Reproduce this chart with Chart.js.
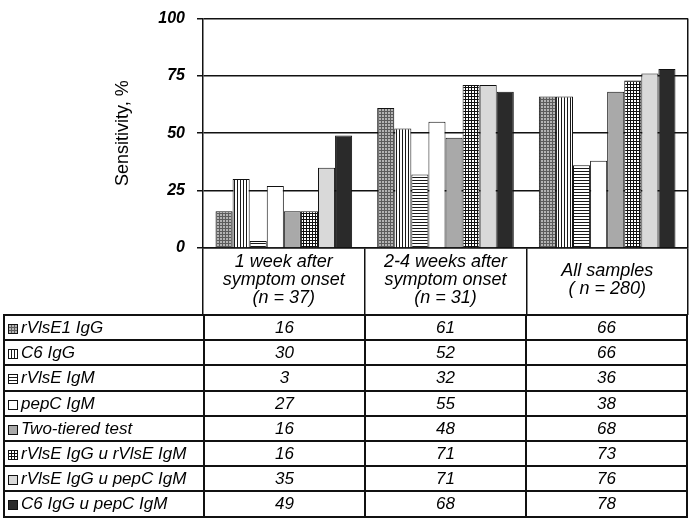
<!DOCTYPE html>
<html>
<head>
<meta charset="utf-8">
<script src="https://cdn.jsdelivr.net/npm/chart.js@4.4.1/dist/chart.umd.min.js"></script>
<style>
  html, body { margin: 0; padding: 0; background: #fff; }
  body { width: 693px; height: 520px; position: relative; overflow: hidden; font-family: 'Liberation Sans', Arial, sans-serif; }
  #chart { position: absolute; left: 0; top: 0; }
  #dataTable { position: absolute; left: 3px; top: 314px; border-collapse: collapse; table-layout: fixed; }
  #dataTable td { border: 2px solid #111; height: 23.2px; padding: 0; font-style: italic; font-size: 17px; text-align: center; line-height: 1; color: #000; }
  #dataTable td.name { text-align: left; padding-left: 3px; white-space: nowrap; }
  .swatch { display: inline-block; vertical-align: -1px; margin-right: 3px; }
</style>
</head>
<body>
<canvas id="chart" width="693" height="316"></canvas>
<table id="dataTable">
  <colgroup><col style="width:200px"><col style="width:161px"><col style="width:161px"><col style="width:161px"></colgroup>
  <tbody></tbody>
</table>
<script>
// categories (x axis / table header)
const categories = [
    ['1 week after', 'symptom onset', '(n = 37)'],
    ['2-4 weeks after', 'symptom onset', '(n = 31)'],
    ['All samples', '( n = 280)']
];

// tests (one bar series each)
const seriesNames = [
    'rVlsE1 IgG',
    'C6 IgG',
    'rVlsE IgM',
    'pepC IgM',
    'Two-tiered test',
    'rVlsE IgG u rVlsE IgM',
    'rVlsE IgG u pepC IgM',
    'C6 IgG u pepC IgM'
];

// sensitivity, % per test and group
const rvlse1IgG = [16, 61, 66];
const c6IgG = [30, 52, 66];
const rvlseIgM = [3, 32, 36];
const pepcIgM = [27, 55, 38];
const twoTiered = [16, 48, 68];
const rvlseIgGorIgM = [16, 71, 73];
const rvlseIgGorPepc = [35, 71, 76];
const c6IgGorPepc = [49, 68, 78];

const seriesValues = [rvlse1IgG, c6IgG, rvlseIgM, pepcIgM, twoTiered, rvlseIgGorIgM, rvlseIgGorPepc, c6IgGorPepc];

const yTicks = [0, 25, 50, 75, 100];

// small repeating fills for the bars
function makeTile(w, h, bg, draw) {
    const c = document.createElement('canvas');
    c.width = w;
    c.height = h;
    const g = c.getContext('2d');
    g.fillStyle = bg;
    g.fillRect(0, 0, w, h);
    if (draw) draw(g);
    return g.createPattern(c, 'repeat');
}

const fills = [
    makeTile(3, 3, '#b4b4b4', g => { g.fillStyle = '#5c5c5c'; g.fillRect(0, 0, 3, 1); g.fillRect(0, 0, 1, 3); }),
    makeTile(3, 3, '#ffffff', g => { g.fillStyle = '#1a1a1a'; g.fillRect(0, 0, 1, 3); }),
    makeTile(3, 3, '#ffffff', g => { g.fillStyle = '#1a1a1a'; g.fillRect(0, 0, 3, 1); }),
    '#ffffff',
    '#a9a9a9',
    makeTile(3, 3, '#ffffff', g => { g.fillStyle = '#111'; g.fillRect(0, 0, 3, 1); g.fillRect(0, 0, 1, 3); }),
    '#d9d9d9',
    '#2a2a2a'
];

Chart.defaults.font.family = "'Liberation Sans', Arial, sans-serif";
Chart.defaults.color = '#000';

new Chart(document.getElementById('chart'), {
    type: 'bar',
    data: {
        labels: categories,
        datasets: seriesNames.map((name, i) => ({
            label: name,
            data: seriesValues[i],
            backgroundColor: fills[i],
            borderColor: '#111',
            borderWidth: 1,
            categoryPercentage: 0.845,
            barPercentage: 1
        }))
    },
    options: {
        responsive: false,
        animation: false,
        layout: { padding: { left: 112, right: 5, top: 7, bottom: 1 } },
        plugins: { legend: { display: false }, tooltip: { enabled: false } },
        scales: {
            x: {
                afterFit: s => { s.height = 67; },
                grid: {
                    offset: true,
                    drawOnChartArea: true,
                    color: ctx => ctx.type === 'scale' ? '#111' : 'rgba(0,0,0,0)',
                    tickColor: '#111',
                    tickLength: 67,
                    lineWidth: 1.5
                },
                border: { display: true, color: '#111', width: 1.5 },
                ticks: {
                    autoSkip: false,
                    maxRotation: 0,
                    crossAlign: 'center',
                    padding: -53,
                    font: { size: 18, style: 'italic', lineHeight: 1.0 }
                }
            },
            y: {
                min: 0,
                max: 100,
                afterFit: s => { s.width = 91; },
                afterBuildTicks: s => { s.ticks = yTicks.map(v => ({ value: v })); },
                grid: { color: '#111', lineWidth: 1.5, tickLength: 6 },
                border: { display: true, color: '#111', width: 1.5 },
                ticks: {
                    padding: 12,
                    font: { size: 16, style: 'italic', weight: 'bold', lineHeight: 0.8 }
                },
                title: {
                    display: true,
                    text: 'Sensitivity, %',
                    font: { size: 18 },
                    padding: { top: 0, bottom: 0 }
                }
            }
        }
    }
});

// data table under the chart
const tbody = document.querySelector('#dataTable tbody');
seriesNames.forEach((name, i) => {
    const tr = document.createElement('tr');
    const nameCell = document.createElement('td');
    nameCell.className = 'name';
    const sw = document.createElement('canvas');
    sw.width = 10;
    sw.height = 10;
    sw.className = 'swatch';
    const g = sw.getContext('2d');
    g.fillStyle = fills[i];
    g.fillRect(0, 0, 10, 10);
    g.strokeStyle = '#111';
    g.lineWidth = 1;
    g.strokeRect(0.5, 0.5, 9, 9);
    nameCell.appendChild(sw);
    nameCell.appendChild(document.createTextNode(name));
    tr.appendChild(nameCell);
    seriesValues[i].forEach(v => {
        const td = document.createElement('td');
        td.textContent = v;
        tr.appendChild(td);
    });
    tbody.appendChild(tr);
});
</script>
</body>
</html>
